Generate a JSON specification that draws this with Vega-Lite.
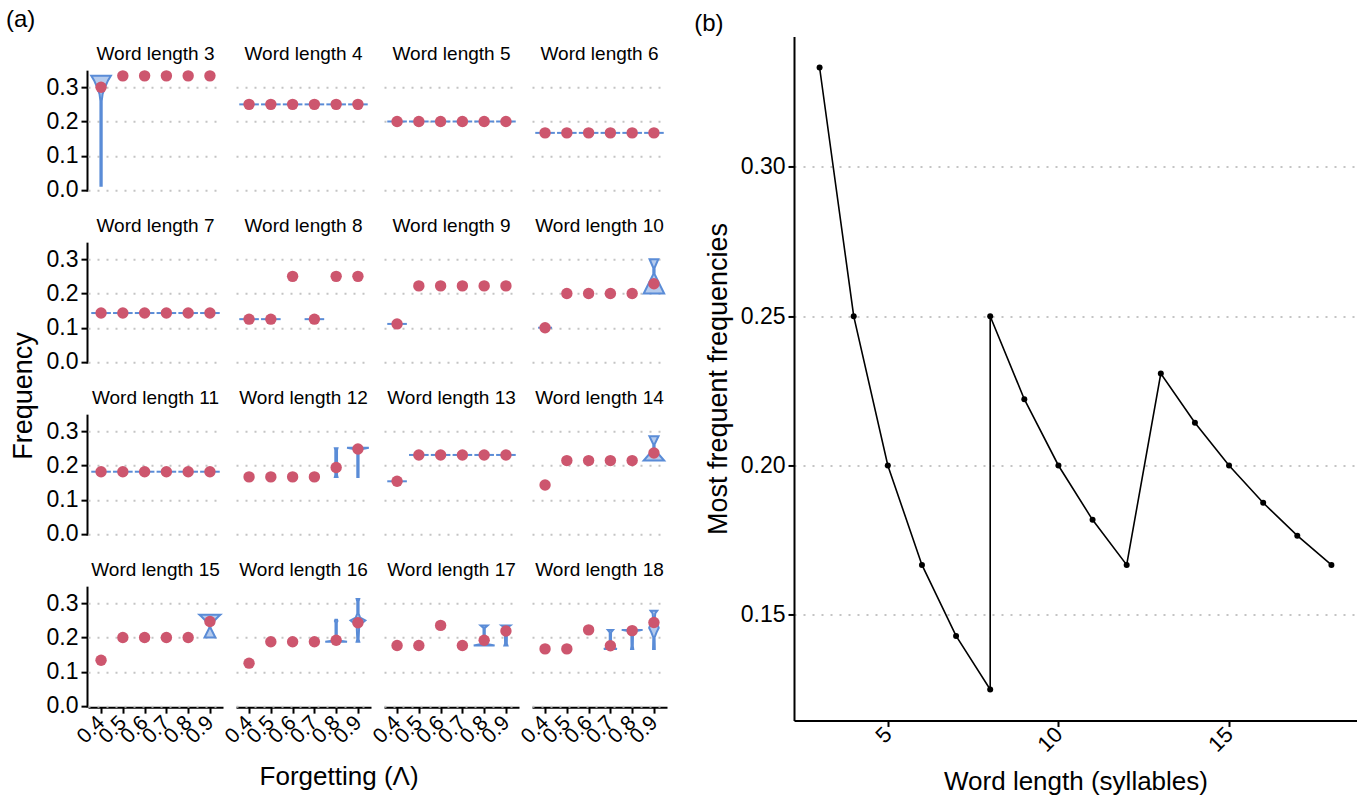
{
  "$schema": "https://vega.github.io/schema/vega-lite/v6.json",
  "padding": {"left": 6, "top": 8, "right": 0, "bottom": 0},
  "center": true,
  "config": {
    "font": "Liberation Sans",
    "view": {"stroke": null},
    "axis": {"domainColor": "black", "domainWidth": 2, "tickColor": "black", "tickWidth": 2, "tickSize": 6, "labelColor": "black", "titleColor": "black", "titleFontWeight": "normal", "gridColor": "#c4c4c4", "gridDash": [2, 7], "gridWidth": 2, "labelOverlap": false},
    "title": {"fontWeight": "normal", "color": "black", "font": "Liberation Sans"},
    "header": {"labelFontSize": 19, "labelFont": "Liberation Sans", "labelColor": "black", "labelPadding": 6}
  },
  "datasets": {
    "a": [
      {"k":"p","w":3,"l":0.4,"f":0.3},{"k":"p","w":3,"l":0.5,"f":0.3333},{"k":"p","w":3,"l":0.6,"f":0.3333},{"k":"p","w":3,"l":0.7,"f":0.3333},{"k":"p","w":3,"l":0.8,"f":0.3333},{"k":"p","w":3,"l":0.9,"f":0.3333},
      {"k":"p","w":4,"l":0.4,"f":0.25},{"k":"p","w":4,"l":0.5,"f":0.25},{"k":"p","w":4,"l":0.6,"f":0.25},{"k":"p","w":4,"l":0.7,"f":0.25},{"k":"p","w":4,"l":0.8,"f":0.25},{"k":"p","w":4,"l":0.9,"f":0.25},
      {"k":"p","w":5,"l":0.4,"f":0.2},{"k":"p","w":5,"l":0.5,"f":0.2},{"k":"p","w":5,"l":0.6,"f":0.2},{"k":"p","w":5,"l":0.7,"f":0.2},{"k":"p","w":5,"l":0.8,"f":0.2},{"k":"p","w":5,"l":0.9,"f":0.2},
      {"k":"p","w":6,"l":0.4,"f":0.1667},{"k":"p","w":6,"l":0.5,"f":0.1667},{"k":"p","w":6,"l":0.6,"f":0.1667},{"k":"p","w":6,"l":0.7,"f":0.1667},{"k":"p","w":6,"l":0.8,"f":0.1667},{"k":"p","w":6,"l":0.9,"f":0.1667},
      {"k":"p","w":7,"l":0.4,"f":0.1429},{"k":"p","w":7,"l":0.5,"f":0.1429},{"k":"p","w":7,"l":0.6,"f":0.1429},{"k":"p","w":7,"l":0.7,"f":0.1429},{"k":"p","w":7,"l":0.8,"f":0.1429},{"k":"p","w":7,"l":0.9,"f":0.1429},
      {"k":"p","w":8,"l":0.4,"f":0.125},{"k":"p","w":8,"l":0.5,"f":0.125},{"k":"p","w":8,"l":0.6,"f":0.25},{"k":"p","w":8,"l":0.7,"f":0.125},{"k":"p","w":8,"l":0.8,"f":0.25},{"k":"p","w":8,"l":0.9,"f":0.25},
      {"k":"p","w":9,"l":0.4,"f":0.1111},{"k":"p","w":9,"l":0.5,"f":0.2222},{"k":"p","w":9,"l":0.6,"f":0.2222},{"k":"p","w":9,"l":0.7,"f":0.2222},{"k":"p","w":9,"l":0.8,"f":0.2222},{"k":"p","w":9,"l":0.9,"f":0.2222},
      {"k":"p","w":10,"l":0.4,"f":0.1},{"k":"p","w":10,"l":0.5,"f":0.2},{"k":"p","w":10,"l":0.6,"f":0.2},{"k":"p","w":10,"l":0.7,"f":0.2},{"k":"p","w":10,"l":0.8,"f":0.2},{"k":"p","w":10,"l":0.9,"f":0.2286},
      {"k":"p","w":11,"l":0.4,"f":0.1818},{"k":"p","w":11,"l":0.5,"f":0.1818},{"k":"p","w":11,"l":0.6,"f":0.1818},{"k":"p","w":11,"l":0.7,"f":0.1818},{"k":"p","w":11,"l":0.8,"f":0.1818},{"k":"p","w":11,"l":0.9,"f":0.1818},
      {"k":"p","w":12,"l":0.4,"f":0.1667},{"k":"p","w":12,"l":0.5,"f":0.1667},{"k":"p","w":12,"l":0.6,"f":0.1667},{"k":"p","w":12,"l":0.7,"f":0.1667},{"k":"p","w":12,"l":0.8,"f":0.194},{"k":"p","w":12,"l":0.9,"f":0.248},
      {"k":"p","w":13,"l":0.4,"f":0.1538},{"k":"p","w":13,"l":0.5,"f":0.2308},{"k":"p","w":13,"l":0.6,"f":0.2308},{"k":"p","w":13,"l":0.7,"f":0.2308},{"k":"p","w":13,"l":0.8,"f":0.2308},{"k":"p","w":13,"l":0.9,"f":0.2308},
      {"k":"p","w":14,"l":0.4,"f":0.1429},{"k":"p","w":14,"l":0.5,"f":0.2143},{"k":"p","w":14,"l":0.6,"f":0.2143},{"k":"p","w":14,"l":0.7,"f":0.2143},{"k":"p","w":14,"l":0.8,"f":0.2143},{"k":"p","w":14,"l":0.9,"f":0.2365},
      {"k":"p","w":15,"l":0.4,"f":0.1333},{"k":"p","w":15,"l":0.5,"f":0.2},{"k":"p","w":15,"l":0.6,"f":0.2},{"k":"p","w":15,"l":0.7,"f":0.2},{"k":"p","w":15,"l":0.8,"f":0.2},{"k":"p","w":15,"l":0.9,"f":0.2467},
      {"k":"p","w":16,"l":0.4,"f":0.125},{"k":"p","w":16,"l":0.5,"f":0.1875},{"k":"p","w":16,"l":0.6,"f":0.1875},{"k":"p","w":16,"l":0.7,"f":0.1875},{"k":"p","w":16,"l":0.8,"f":0.192},{"k":"p","w":16,"l":0.9,"f":0.243},
      {"k":"p","w":17,"l":0.4,"f":0.1765},{"k":"p","w":17,"l":0.5,"f":0.1765},{"k":"p","w":17,"l":0.6,"f":0.2353},{"k":"p","w":17,"l":0.7,"f":0.1765},{"k":"p","w":17,"l":0.8,"f":0.192},{"k":"p","w":17,"l":0.9,"f":0.219},
      {"k":"p","w":18,"l":0.4,"f":0.1667},{"k":"p","w":18,"l":0.5,"f":0.1667},{"k":"p","w":18,"l":0.6,"f":0.2222},{"k":"p","w":18,"l":0.7,"f":0.176},{"k":"p","w":18,"l":0.8,"f":0.22},{"k":"p","w":18,"l":0.9,"f":0.244},

      {"k":"r","w":4,"f":0.25,"lo":0.355,"hi":0.445},{"k":"r","w":4,"f":0.25,"lo":0.455,"hi":0.545},{"k":"r","w":4,"f":0.25,"lo":0.555,"hi":0.645},{"k":"r","w":4,"f":0.25,"lo":0.655,"hi":0.745},{"k":"r","w":4,"f":0.25,"lo":0.755,"hi":0.845},{"k":"r","w":4,"f":0.25,"lo":0.855,"hi":0.945},
      {"k":"r","w":5,"f":0.2,"lo":0.355,"hi":0.445},{"k":"r","w":5,"f":0.2,"lo":0.455,"hi":0.545},{"k":"r","w":5,"f":0.2,"lo":0.555,"hi":0.645},{"k":"r","w":5,"f":0.2,"lo":0.655,"hi":0.745},{"k":"r","w":5,"f":0.2,"lo":0.755,"hi":0.845},{"k":"r","w":5,"f":0.2,"lo":0.855,"hi":0.945},
      {"k":"r","w":6,"f":0.1667,"lo":0.355,"hi":0.445},{"k":"r","w":6,"f":0.1667,"lo":0.455,"hi":0.545},{"k":"r","w":6,"f":0.1667,"lo":0.555,"hi":0.645},{"k":"r","w":6,"f":0.1667,"lo":0.655,"hi":0.745},{"k":"r","w":6,"f":0.1667,"lo":0.755,"hi":0.845},{"k":"r","w":6,"f":0.1667,"lo":0.855,"hi":0.945},
      {"k":"r","w":7,"f":0.1429,"lo":0.355,"hi":0.445},{"k":"r","w":7,"f":0.1429,"lo":0.455,"hi":0.545},{"k":"r","w":7,"f":0.1429,"lo":0.555,"hi":0.645},{"k":"r","w":7,"f":0.1429,"lo":0.655,"hi":0.745},{"k":"r","w":7,"f":0.1429,"lo":0.755,"hi":0.845},{"k":"r","w":7,"f":0.1429,"lo":0.855,"hi":0.945},
      {"k":"r","w":8,"f":0.125,"lo":0.355,"hi":0.445},{"k":"r","w":8,"f":0.125,"lo":0.455,"hi":0.545},{"k":"r","w":8,"f":0.125,"lo":0.655,"hi":0.745},
      {"k":"r","w":9,"f":0.1111,"lo":0.355,"hi":0.445},
      {"k":"r","w":10,"f":0.1,"lo":0.368,"hi":0.432},
      {"k":"r","w":11,"f":0.1818,"lo":0.355,"hi":0.445},{"k":"r","w":11,"f":0.1818,"lo":0.455,"hi":0.545},{"k":"r","w":11,"f":0.1818,"lo":0.555,"hi":0.645},{"k":"r","w":11,"f":0.1818,"lo":0.655,"hi":0.745},{"k":"r","w":11,"f":0.1818,"lo":0.755,"hi":0.845},{"k":"r","w":11,"f":0.1818,"lo":0.855,"hi":0.945},
      {"k":"r","w":13,"f":0.1538,"lo":0.355,"hi":0.445},{"k":"r","w":13,"f":0.2308,"lo":0.455,"hi":0.545},{"k":"r","w":13,"f":0.2308,"lo":0.555,"hi":0.645},{"k":"r","w":13,"f":0.2308,"lo":0.655,"hi":0.745},{"k":"r","w":13,"f":0.2308,"lo":0.755,"hi":0.845},{"k":"r","w":13,"f":0.2308,"lo":0.855,"hi":0.945},

      {"k":"v","v":1,"w":3,"f":0.012,"lo":0.397,"hi":0.403},{"k":"v","v":1,"w":3,"f":0.26,"lo":0.397,"hi":0.403},{"k":"v","v":1,"w":3,"f":0.28,"lo":0.393,"hi":0.407},{"k":"v","v":1,"w":3,"f":0.3,"lo":0.382,"hi":0.418},{"k":"v","v":1,"w":3,"f":0.32,"lo":0.368,"hi":0.432},{"k":"v","v":1,"w":3,"f":0.3335,"lo":0.355,"hi":0.445},
      {"k":"v","v":2,"w":10,"f":0.2,"lo":0.853,"hi":0.947},{"k":"v","v":2,"w":10,"f":0.256,"lo":0.897,"hi":0.903},{"k":"v","v":2,"w":10,"f":0.275,"lo":0.897,"hi":0.903},{"k":"v","v":2,"w":10,"f":0.3,"lo":0.88,"hi":0.92},
      {"k":"v","v":3,"w":12,"f":0.1667,"lo":0.794,"hi":0.806},{"k":"v","v":3,"w":12,"f":0.172,"lo":0.796,"hi":0.804},{"k":"v","v":3,"w":12,"f":0.245,"lo":0.796,"hi":0.804},{"k":"v","v":3,"w":12,"f":0.25,"lo":0.794,"hi":0.806},
      {"k":"v","v":4,"w":12,"f":0.1667,"lo":0.897,"hi":0.903},{"k":"v","v":4,"w":12,"f":0.244,"lo":0.897,"hi":0.903},{"k":"v","v":4,"w":12,"f":0.248,"lo":0.88,"hi":0.92},{"k":"v","v":4,"w":12,"f":0.2515,"lo":0.85,"hi":0.95},
      {"k":"v","v":5,"w":14,"f":0.2143,"lo":0.853,"hi":0.947},{"k":"v","v":5,"w":14,"f":0.247,"lo":0.897,"hi":0.903},{"k":"v","v":5,"w":14,"f":0.262,"lo":0.897,"hi":0.903},{"k":"v","v":5,"w":14,"f":0.2857,"lo":0.879,"hi":0.921},
      {"k":"v","v":6,"w":15,"f":0.2,"lo":0.875,"hi":0.925},{"k":"v","v":6,"w":15,"f":0.228,"lo":0.897,"hi":0.903},{"k":"v","v":6,"w":15,"f":0.238,"lo":0.897,"hi":0.903},{"k":"v","v":6,"w":15,"f":0.262,"lo":0.86,"hi":0.94},{"k":"v","v":6,"w":15,"f":0.2667,"lo":0.852,"hi":0.948},
      {"k":"v","v":7,"w":16,"f":0.1875,"lo":0.75,"hi":0.85},{"k":"v","v":7,"w":16,"f":0.191,"lo":0.79,"hi":0.81},{"k":"v","v":7,"w":16,"f":0.2,"lo":0.797,"hi":0.803},{"k":"v","v":7,"w":16,"f":0.243,"lo":0.797,"hi":0.803},{"k":"v","v":7,"w":16,"f":0.248,"lo":0.794,"hi":0.806},{"k":"v","v":7,"w":16,"f":0.252,"lo":0.796,"hi":0.804},
      {"k":"v","v":8,"w":16,"f":0.1875,"lo":0.894,"hi":0.906},{"k":"v","v":8,"w":16,"f":0.195,"lo":0.897,"hi":0.903},{"k":"v","v":8,"w":16,"f":0.235,"lo":0.894,"hi":0.906},{"k":"v","v":8,"w":16,"f":0.25,"lo":0.866,"hi":0.934},{"k":"v","v":8,"w":16,"f":0.258,"lo":0.89,"hi":0.91},{"k":"v","v":8,"w":16,"f":0.27,"lo":0.897,"hi":0.903},{"k":"v","v":8,"w":16,"f":0.305,"lo":0.897,"hi":0.903},{"k":"v","v":8,"w":16,"f":0.3125,"lo":0.894,"hi":0.906},
      {"k":"v","v":9,"w":17,"f":0.1765,"lo":0.752,"hi":0.848},{"k":"v","v":9,"w":17,"f":0.181,"lo":0.788,"hi":0.812},{"k":"v","v":9,"w":17,"f":0.19,"lo":0.797,"hi":0.803},{"k":"v","v":9,"w":17,"f":0.228,"lo":0.797,"hi":0.803},{"k":"v","v":9,"w":17,"f":0.2353,"lo":0.784,"hi":0.816},
      {"k":"v","v":10,"w":17,"f":0.1765,"lo":0.893,"hi":0.907},{"k":"v","v":10,"w":17,"f":0.182,"lo":0.896,"hi":0.904},{"k":"v","v":10,"w":17,"f":0.228,"lo":0.895,"hi":0.905},{"k":"v","v":10,"w":17,"f":0.2353,"lo":0.88,"hi":0.92},
      {"k":"v","v":11,"w":18,"f":0.1667,"lo":0.67,"hi":0.73},{"k":"v","v":11,"w":18,"f":0.172,"lo":0.692,"hi":0.708},{"k":"v","v":11,"w":18,"f":0.18,"lo":0.697,"hi":0.703},{"k":"v","v":11,"w":18,"f":0.215,"lo":0.697,"hi":0.703},{"k":"v","v":11,"w":18,"f":0.2222,"lo":0.688,"hi":0.712},
      {"k":"v","v":12,"w":18,"f":0.1667,"lo":0.795,"hi":0.805},{"k":"v","v":12,"w":18,"f":0.175,"lo":0.797,"hi":0.803},{"k":"v","v":12,"w":18,"f":0.215,"lo":0.796,"hi":0.804},{"k":"v","v":12,"w":18,"f":0.219,"lo":0.78,"hi":0.82},{"k":"v","v":12,"w":18,"f":0.2222,"lo":0.752,"hi":0.848},
      {"k":"v","v":13,"w":18,"f":0.1667,"lo":0.896,"hi":0.904},{"k":"v","v":13,"w":18,"f":0.2,"lo":0.897,"hi":0.903},{"k":"v","v":13,"w":18,"f":0.215,"lo":0.888,"hi":0.912},{"k":"v","v":13,"w":18,"f":0.228,"lo":0.878,"hi":0.922},{"k":"v","v":13,"w":18,"f":0.24,"lo":0.885,"hi":0.915},{"k":"v","v":13,"w":18,"f":0.256,"lo":0.896,"hi":0.904},{"k":"v","v":13,"w":18,"f":0.27,"lo":0.894,"hi":0.906},{"k":"v","v":13,"w":18,"f":0.2778,"lo":0.885,"hi":0.915}
    ],
    "b": [
      {"x":3,"y":0.3333,"o":1},{"x":4,"y":0.25,"o":2},{"x":5,"y":0.2,"o":3},{"x":6,"y":0.1667,"o":4},{"x":7,"y":0.1429,"o":5},{"x":8,"y":0.125,"o":6},{"x":8,"y":0.25,"o":7},{"x":9,"y":0.2222,"o":8},{"x":10,"y":0.2,"o":9},{"x":11,"y":0.1818,"o":10},{"x":12,"y":0.1667,"o":11},{"x":13,"y":0.2308,"o":12},{"x":14,"y":0.2143,"o":13},{"x":15,"y":0.2,"o":14},{"x":16,"y":0.1875,"o":15},{"x":17,"y":0.1765,"o":16},{"x":18,"y":0.1667,"o":17}
    ]
  },
  "hconcat": [
    {
      "title": {"text": "(a)", "anchor": "start", "frame": "bounds", "fontSize": 24, "offset": 13, "dx": -4},
      "vconcat": [
        {
          "title": {"text": "Forgetting (Λ)", "orient": "bottom", "anchor": "middle", "fontSize": 26, "offset": 17},
          "vconcat": [
            {
              "data": {"name": "a"},
              "title": {"text": "Frequency", "orient": "left", "anchor": "middle", "fontSize": 27, "offset": 8},
              "facet": {"field": "w", "type": "ordinal", "title": null, "header": {"labelExpr": "'Word length ' + datum.value"}},
              "columns": 4,
              "spacing": {"column": 11, "row": 26},
              "spec": {
                "width": 135,
                "height": 121,
                "layer": [
                  {
                    "transform": [{"filter": "datum.k === 'v'"}],
                    "mark": {"type": "area", "orient": "horizontal", "color": "#5a8cd7", "fillOpacity": 0.45, "stroke": "#5a8cd7", "strokeWidth": 2},
                    "encoding": {
                      "y": {"field": "f", "type": "quantitative", "scale": {"domain": [-0.0035, 0.35], "nice": false, "zero": false}, "axis": {"title": null, "values": [0, 0.1, 0.2, 0.3], "format": ".1f", "labelFontSize": 23, "labelPadding": 3}},
                      "x": {"field": "lo", "type": "quantitative", "scale": {"domain": [0.34, 0.96], "nice": false, "zero": false}, "axis": {"title": null, "values": [0.4, 0.5, 0.6, 0.7, 0.8, 0.9], "format": ".1f", "labelAngle": -45, "labelFontSize": 21, "grid": false, "labelAlign": "right", "labelBaseline": "middle", "labelOverlap": false, "labelFlush": false, "labelPadding": 6}},
                      "x2": {"field": "hi"},
                      "detail": {"field": "v", "type": "nominal"}
                    }
                  },
                  {
                    "transform": [{"filter": "datum.k === 'r'"}],
                    "mark": {"type": "rule", "color": "#5a8cd7", "strokeWidth": 2},
                    "encoding": {
                      "y": {"field": "f", "type": "quantitative", "scale": {"domain": [-0.0035, 0.35], "nice": false, "zero": false}, "axis": {"title": null, "values": [0, 0.1, 0.2, 0.3], "format": ".1f", "labelFontSize": 23, "labelPadding": 3}},
                      "x": {"field": "lo", "type": "quantitative", "scale": {"domain": [0.34, 0.96], "nice": false, "zero": false}, "axis": {"title": null, "values": [0.4, 0.5, 0.6, 0.7, 0.8, 0.9], "format": ".1f", "labelAngle": -45, "labelFontSize": 21, "grid": false, "labelAlign": "right", "labelBaseline": "middle", "labelOverlap": false, "labelFlush": false, "labelPadding": 6}},
                      "x2": {"field": "hi"}
                    }
                  },
                  {
                    "transform": [{"filter": "datum.k === 'p'"}],
                    "mark": {"type": "circle", "color": "#cd566e", "opacity": 1, "size": 130},
                    "encoding": {
                      "y": {"field": "f", "type": "quantitative", "scale": {"domain": [-0.0035, 0.35], "nice": false, "zero": false}, "axis": {"title": null, "values": [0, 0.1, 0.2, 0.3], "format": ".1f", "labelFontSize": 23, "labelPadding": 3}},
                      "x": {"field": "l", "type": "quantitative", "scale": {"domain": [0.34, 0.96], "nice": false, "zero": false}, "axis": {"title": null, "values": [0.4, 0.5, 0.6, 0.7, 0.8, 0.9], "format": ".1f", "labelAngle": -45, "labelFontSize": 21, "grid": false, "labelAlign": "right", "labelBaseline": "middle", "labelOverlap": false, "labelFlush": false, "labelPadding": 6}}
                    }
                  }
                ]
              }
            }
          ]
        }
      ]
    },
    {
      "title": {"text": "(b)", "anchor": "start", "frame": "bounds", "fontSize": 24, "offset": 0, "dx": -10},
      "vconcat": [
        {
          "data": {"name": "b"},
          "width": 563,
          "height": 684,
          "encoding": {
            "x": {"field": "x", "type": "quantitative", "scale": {"domain": [2.25, 18.75], "nice": false, "zero": false}, "axis": {"title": ["Word length (syllables)", " "], "titleFontSize": 26, "titleLineHeight": 29, "values": [5, 10, 15], "labelAngle": -45, "labelAlign": "right", "labelBaseline": "middle", "labelFontSize": 22, "grid": false, "labelPadding": 4, "titlePadding": 13}},
            "y": {"field": "y", "type": "quantitative", "scale": {"domain": [0.1146, 0.3437], "nice": false, "zero": false}, "axis": {"title": "Most frequent frequencies", "titleFontSize": 27, "values": [0.15, 0.2, 0.25, 0.3], "format": ".2f", "labelFontSize": 23, "labelPadding": 3, "titlePadding": 8}}
          },
          "layer": [
            {"mark": {"type": "line", "color": "black", "strokeWidth": 1.6}, "encoding": {"order": {"field": "o", "type": "quantitative"}}},
            {"mark": {"type": "circle", "color": "black", "opacity": 1, "size": 36}}
          ]
        }
      ]
    }
  ],
  "spacing": 25
}
